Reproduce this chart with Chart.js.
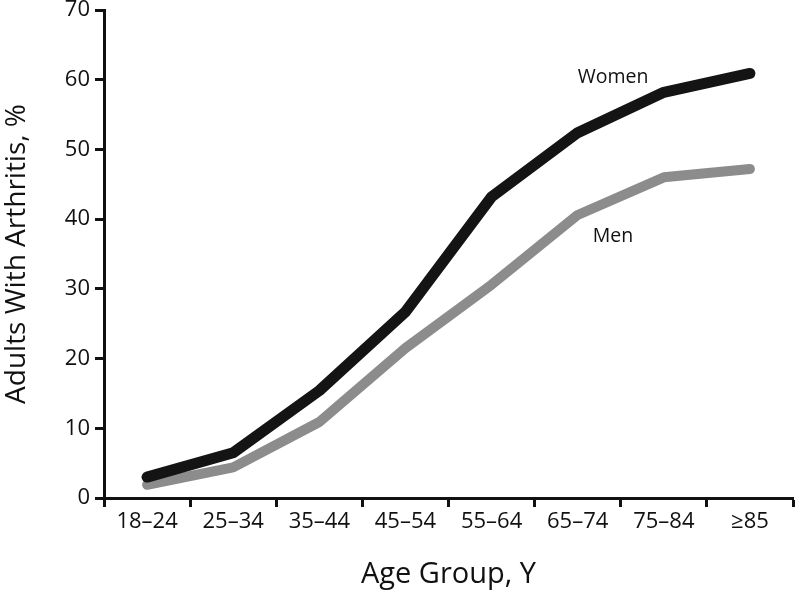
<!DOCTYPE html>
<html>
<head>
<meta charset="utf-8">
<script src="https://cdn.jsdelivr.net/npm/chart.js@4"></script>
<style>
  html, body { margin: 0; padding: 0; background: #fff; }
  #wrap { width: 797px; height: 592px; }
</style>
</head>
<body>
<div id="wrap"><canvas id="arthritisChart" width="797" height="592"></canvas></div>
<script>
const ageGroups = ["18–24", "25–34", "35–44", "45–54", "55–64", "65–74", "75–84", "≥85"];
const women = [3.0, 6.5, 15.4, 26.7, 43.2, 52.4, 58.2, 60.9];
const men = [1.9, 4.4, 10.9, 21.5, 30.6, 40.6, 46.0, 47.2];
const yTicks = [0, 10, 20, 30, 40, 50, 60, 70];

// labels written next to the lines: [text, category position, value]
const lineLabels = [
  ["Women", 5.41, 60.3],
  ["Men", 5.41, 37.5],
];

const FONT = "'Open Sans', 'Liberation Sans', sans-serif";

const lineLabelPlugin = {
  id: "lineLabels",
  afterDatasetsDraw(chart) {
    const ctx = chart.ctx;
    const xs = chart.scales.x;
    const ys = chart.scales.y;
    ctx.save();
    ctx.font = "19.5px " + FONT;
    ctx.fillStyle = "#111";
    ctx.textAlign = "center";
    ctx.textBaseline = "middle";
    lineLabels.forEach((l) => {
      const i = Math.floor(l[1]);
      const f = l[1] - i;
      const x = xs.getPixelForValue(i) + f * (xs.getPixelForValue(i + 1) - xs.getPixelForValue(i));
      ctx.fillText(l[0], x, ys.getPixelForValue(l[2]));
    });
    ctx.restore();
  },
};

const ctx = document.getElementById("arthritisChart").getContext("2d");
new Chart(ctx, {
  type: "line",
  data: {
    labels: ageGroups,
    datasets: [
      {
        label: "Women",
        data: women,
        borderColor: "#141414",
        borderWidth: 11,
        borderCapStyle: "round",
        borderJoinStyle: "round",
        pointRadius: 0,
        tension: 0,
        clip: false,
      },
      {
        label: "Men",
        data: men,
        borderColor: "#8c8c8c",
        borderWidth: 10,
        borderCapStyle: "round",
        borderJoinStyle: "round",
        pointRadius: 0,
        tension: 0,
        clip: false,
      },
    ],
  },
  options: {
    responsive: false,
    animation: false,
    layout: { padding: { top: 0, right: 4, left: 0, bottom: 0 } },
    plugins: {
      legend: { display: false },
      tooltip: { enabled: false },
    },
    scales: {
      x: {
        offset: true,
        grid: {
          offset: true,
          drawOnChartArea: false,
          drawTicks: true,
          tickLength: 9,
          tickWidth: 3,
          tickColor: "#111",
        },
        border: { display: true, color: "#111", width: 3 },
        ticks: {
          color: "#111",
          font: { family: FONT, size: 22 },
          padding: 2,
          maxRotation: 0,
          autoSkip: false,
        },
        title: {
          display: true,
          text: "Age Group, Y",
          color: "#111",
          font: { family: FONT, size: 29 },
          padding: { top: 7, bottom: 0 },
        },
        afterFit(scale) {
          scale.height = 94;
        },
      },
      y: {
        min: 0,
        max: 70,
        afterBuildTicks(scale) {
          scale.ticks = yTicks.map((v) => ({ value: v }));
        },
        grid: {
          drawOnChartArea: false,
          drawTicks: true,
          tickLength: 9,
          tickWidth: 3,
          tickColor: "#111",
        },
        border: { display: true, color: "#111", width: 3 },
        ticks: {
          color: "#111",
          font: { family: FONT, size: 22 },
          padding: 5,
        },
        title: {
          display: true,
          text: "Adults With Arthritis, %",
          color: "#111",
          font: { family: FONT, size: 28 },
          padding: { top: 0, bottom: 3 },
        },
        afterFit(scale) {
          scale.width = 104;
          scale.paddingTop = 10;
        },
      },
    },
  },
  plugins: [lineLabelPlugin],
});
</script>
</body>
</html>
